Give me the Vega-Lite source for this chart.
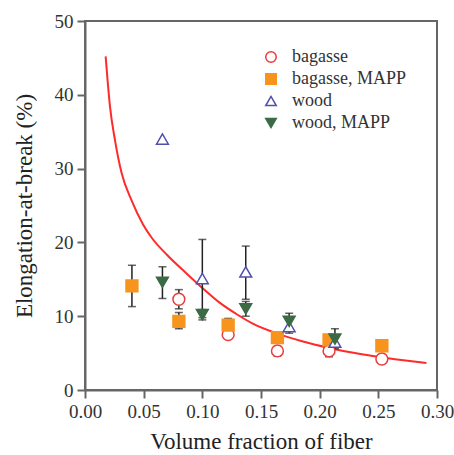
{
  "$schema": "https://vega.github.io/schema/vega-lite/v6.json",
  "width": 352,
  "height": 369,
  "autosize": {"type": "none"},
  "padding": {"left": 85, "top": 21, "right": 17, "bottom": 65},
  "background": "white",
  "config": {
    "font": "Liberation Serif, serif",
    "view": {"stroke": "#666666", "strokeWidth": 2},
    "axis": {
      "grid": false,
      "domainColor": "#666666",
      "domainWidth": 2,
      "tickColor": "#666666",
      "tickWidth": 2,
      "tickSize": 8,
      "labelFont": "serif",
      "labelFontSize": 19,
      "labelColor": "#333333",
      "titleFont": "serif",
      "titleFontSize": 23,
      "titleFontWeight": "normal",
      "titleColor": "#222222"
    },
    "legend": {
      "labelFont": "serif",
      "labelFontSize": 18,
      "labelColor": "#333333"
    }
  },
  "datasets": {
    "pts": [
      {"series": "bagasse", "vf": 0.080, "eab": 12.3, "lo": 11.0, "hi": 13.6},
      {"series": "bagasse", "vf": 0.122, "eab": 7.5, "lo": 7.0, "hi": 8.0},
      {"series": "bagasse", "vf": 0.164, "eab": 5.3, "lo": 4.6, "hi": 5.9},
      {"series": "bagasse", "vf": 0.208, "eab": 5.3, "lo": 4.5, "hi": 6.1},
      {"series": "bagasse", "vf": 0.253, "eab": 4.2, "lo": 3.6, "hi": 4.8},
      {"series": "bagasse, MAPP", "vf": 0.040, "eab": 14.1, "lo": 11.3, "hi": 16.9},
      {"series": "bagasse, MAPP", "vf": 0.080, "eab": 9.3, "lo": 8.3, "hi": 10.5},
      {"series": "bagasse, MAPP", "vf": 0.122, "eab": 8.8, "lo": 7.9, "hi": 9.7},
      {"series": "bagasse, MAPP", "vf": 0.164, "eab": 7.1, "lo": 6.5, "hi": 7.7},
      {"series": "bagasse, MAPP", "vf": 0.208, "eab": 6.8, "lo": 6.2, "hi": 7.4},
      {"series": "bagasse, MAPP", "vf": 0.253, "eab": 6.0, "lo": 5.3, "hi": 6.6},
      {"series": "wood", "vf": 0.066, "eab": 34.0, "lo": null, "hi": null},
      {"series": "wood", "vf": 0.100, "eab": 15.1, "lo": 9.8, "hi": 20.4},
      {"series": "wood", "vf": 0.137, "eab": 16.0, "lo": 12.3, "hi": 19.5},
      {"series": "wood", "vf": 0.174, "eab": 8.6, "lo": 7.7, "hi": 9.5},
      {"series": "wood", "vf": 0.213, "eab": 6.5, "lo": 5.9, "hi": 7.1},
      {"series": "wood, MAPP", "vf": 0.066, "eab": 14.6, "lo": 12.4, "hi": 16.7},
      {"series": "wood, MAPP", "vf": 0.100, "eab": 10.2, "lo": 9.5, "hi": 10.9},
      {"series": "wood, MAPP", "vf": 0.137, "eab": 11.0, "lo": 10.0, "hi": 12.0},
      {"series": "wood, MAPP", "vf": 0.174, "eab": 9.3, "lo": 8.3, "hi": 10.4},
      {"series": "wood, MAPP", "vf": 0.213, "eab": 6.9, "lo": 5.6, "hi": 8.3}
    ],
    "curve": [
      {"vf": 0.0176, "eab": 45.2},
      {"vf": 0.0213, "eab": 38.4},
      {"vf": 0.0255, "eab": 33.9},
      {"vf": 0.0312, "eab": 29.4},
      {"vf": 0.0397, "eab": 25.7},
      {"vf": 0.0496, "eab": 22.4},
      {"vf": 0.0570, "eab": 20.6},
      {"vf": 0.0700, "eab": 18.3},
      {"vf": 0.0865, "eab": 15.8},
      {"vf": 0.0995, "eab": 13.9},
      {"vf": 0.1150, "eab": 11.8},
      {"vf": 0.1300, "eab": 10.2},
      {"vf": 0.1430, "eab": 9.0},
      {"vf": 0.1630, "eab": 7.7},
      {"vf": 0.1850, "eab": 6.6},
      {"vf": 0.2080, "eab": 5.7},
      {"vf": 0.2300, "eab": 5.0},
      {"vf": 0.2540, "eab": 4.4},
      {"vf": 0.2750, "eab": 3.95},
      {"vf": 0.2910, "eab": 3.65}
    ]
  },
  "layer": [
    {
      "data": {"name": "curve"},
      "mark": {"type": "line", "color": "#ff2a2a", "strokeWidth": 2, "interpolate": "monotone"},
      "encoding": {
        "x": {"field": "vf", "type": "quantitative", "scale": {"domain": [0, 0.3], "nice": false},
          "axis": {"title": "Volume fraction of fiber", "values": [0, 0.05, 0.1, 0.15, 0.2, 0.25, 0.3], "format": ".2f", "labelPadding": 4, "titlePadding": 9, "labelFlush": false}},
        "y": {"field": "eab", "type": "quantitative", "scale": {"domain": [0, 50], "nice": false},
          "axis": {"title": "Elongation-at-break (%)", "values": [0, 10, 20, 30, 40, 50], "labelPadding": 4, "titlePadding": 18, "labelFlush": false}}
      }
    },
    {
      "data": {"name": "pts"},
      "mark": {"type": "rule", "color": "#222222", "strokeWidth": 1.5},
      "encoding": {
        "x": {"field": "vf", "type": "quantitative"},
        "y": {"field": "lo", "type": "quantitative"},
        "y2": {"field": "hi"}
      }
    },
    {
      "data": {"name": "pts"},
      "mark": {"type": "tick", "orient": "horizontal", "color": "#222222", "size": 8, "thickness": 1.5},
      "encoding": {
        "x": {"field": "vf", "type": "quantitative"},
        "y": {"field": "lo", "type": "quantitative"}
      }
    },
    {
      "data": {"name": "pts"},
      "mark": {"type": "tick", "orient": "horizontal", "color": "#222222", "size": 8, "thickness": 1.5},
      "encoding": {
        "x": {"field": "vf", "type": "quantitative"},
        "y": {"field": "hi", "type": "quantitative"}
      }
    },
    {
      "data": {"name": "pts"},
      "mark": {"type": "point", "strokeWidth": 1.5, "opacity": 1, "size": 140},
      "encoding": {
        "x": {"field": "vf", "type": "quantitative"},
        "y": {"field": "eab", "type": "quantitative"},
        "shape": {"field": "series", "type": "nominal",
          "scale": {"domain": ["bagasse", "bagasse, MAPP", "wood", "wood, MAPP"], "range": ["circle", "square", "triangle-up", "triangle-down"]},
          "legend": {"title": null, "orient": "none", "legendX": 177, "legendY": 27, "padding": 0, "rowPadding": 4, "labelOffset": 12, "symbolSize": 110, "symbolStrokeWidth": 1.5}},
        "fill": {"field": "series", "type": "nominal",
          "scale": {"domain": ["bagasse", "bagasse, MAPP", "wood", "wood, MAPP"], "range": ["white", "#f7941d", "white", "#3b6b45"]},
          "legend": {"title": null, "orient": "none", "legendX": 177, "legendY": 27, "padding": 0, "rowPadding": 4, "labelOffset": 12, "symbolSize": 110, "symbolStrokeWidth": 1.5}},
        "stroke": {"field": "series", "type": "nominal",
          "scale": {"domain": ["bagasse", "bagasse, MAPP", "wood", "wood, MAPP"], "range": ["#ee3a3a", "#f7941d", "#4f4fae", "#3b6b45"]},
          "legend": {"title": null, "orient": "none", "legendX": 177, "legendY": 27, "padding": 0, "rowPadding": 4, "labelOffset": 12, "symbolSize": 110, "symbolStrokeWidth": 1.5}},
        "order": {"field": "series"}
      }
    }
  ]
}
